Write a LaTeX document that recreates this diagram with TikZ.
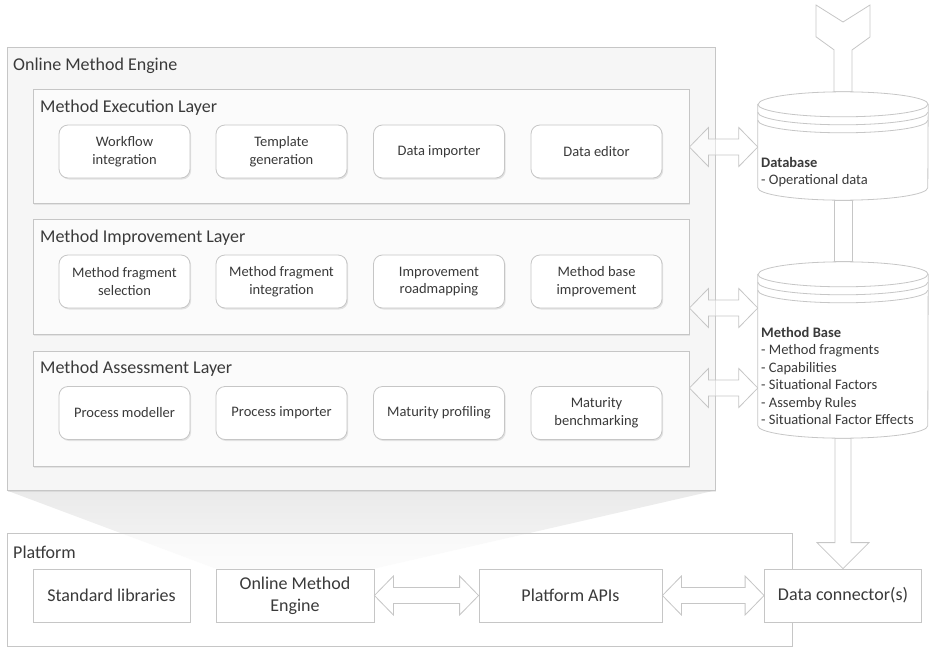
\documentclass[tikz,border=0pt]{standalone}
\usepackage{fontspec}
\setmainfont{Carlito}
\usepackage{tikz}
\usetikzlibrary{calc, shadows, backgrounds}
\definecolor{EdgeGray}{RGB}{198,198,198}
\definecolor{InkGray}{RGB}{58,58,58}
\definecolor{PaleFill}{RGB}{246,246,246}
\definecolor{FunnelGray}{RGB}{234,234,234}

% two-headed block arrow between two points at the same height
\newcommand{\twoway}[2]{%
  \draw[blockarrow] (#1) -- ++(19,19.5) -- ++(0,-11.5) -- ($(#2)+(-19,8)$) -- ++(0,11.5) -- (#2)
    -- ++(-19,-19.5) -- ++(0,11.5) -- ($(#1)+(19,-8)$) -- ++(0,-11.5) -- cycle;}
% drum outline round a named node
\newcommand{\drum}[1]{%
  \draw[drumline, fill=white] ([yshift=-12.5]#1.north west) -- ([yshift=12.5]#1.south west)
    arc[start angle=180, end angle=360, x radius=85, y radius=12.5]
    -- ([yshift=-12.5]#1.north east)
    arc[start angle=0, end angle=180, x radius=85, y radius=12.5] -- cycle;
  \foreach \d in {0,8,16}
    \draw[drumline] ([yshift=-12.5-\d]#1.north west) arc[start angle=180, end angle=360, x radius=85, y radius=12.5];}

\begin{document}
\begin{tikzpicture}[
    x=1pt, y=1pt,
    every node/.style={text=InkGray, inner sep=0pt},
    title/.style={font=\fontsize{18}{21.6}\selectfont},
    enginebox/.style={draw=EdgeGray, line width=0.8pt, fill=PaleFill, drop shadow={opacity=0.15, shadow xshift=1pt, shadow yshift=-1.5pt}},
    layerbox/.style={draw=EdgeGray, line width=0.8pt, fill=white!60!PaleFill, minimum width=656, drop shadow={opacity=0.15, shadow xshift=1pt, shadow yshift=-1.5pt}},
    part/.style={draw=EdgeGray, line width=0.8pt, fill=white, rounded corners=9pt, minimum width=131, minimum height=53, align=center, font=\fontsize{14.5}{17.5}\selectfont, drop shadow={opacity=0.2, shadow xshift=1.2pt, shadow yshift=-1.5pt}},
    platformbox/.style={draw=EdgeGray, line width=0.8pt, fill=white, fill opacity=0.6},
    unit/.style={draw=EdgeGray, line width=0.8pt, fill=white, minimum height=53, align=center, font=\fontsize{18}{21.6}\selectfont},
    blockarrow/.style={draw=EdgeGray, line width=0.8pt, fill=white, fill opacity=0.5, line join=miter},
    drumline/.style={draw=EdgeGray, line width=0.8pt},
    drumspace/.style={minimum width=170},
    drumtext/.style={align=left, font=\fontsize{14.5}{17.5}\selectfont}
]
\useasboundingbox (0,0) rectangle (930,-648);

% platform level
\node[platformbox, minimum width=785, minimum height=113] (platform) at (399.5,-589.5) {};
\node[title, anchor=west] (platformT) at (13,-552) {Platform};
\node[unit, minimum width=157] (stdlib) at (111.5,-595.5) {Standard libraries};
\node[unit, minimum width=158] (engine2) at (295,-595.5) {Online Method\\Engine};
\node[unit, minimum width=183] (apis) at (570.5,-595.5) {Platform APIs};
\node[unit, minimum width=157] (conn) at (843,-595.5) {Data connector(s)};

% engine and its layers
\node[enginebox, minimum width=708, minimum height=443] (engine) at (361,-268.5) {};
\node[title, anchor=west] (engineT) at (13,-66) {Online Method Engine};

\node[layerbox, minimum height=114] (execL) at (361,-146) {};
\node[title, anchor=west] (execT) at (40,-108) {Method Execution Layer};
\node[part] (wf) at (124.5,-151.5) {Workflow\\integration};
\node[part] (tg) at (281.5,-151.5) {Template\\generation};
\node[part] (di) at (439,-151.5) {Data importer};
\node[part] (de) at (596.5,-151.5) {Data editor};

\node[layerbox, minimum height=115] (improveL) at (361,-276.5) {};
\node[title, anchor=west] (improveT) at (40,-238) {Method Improvement Layer};
\node[part] (mfs) at (124.5,-281.5) {Method fragment\\selection};
\node[part] (mfi) at (281.5,-281.5) {Method fragment\\integration};
\node[part] (ir) at (439,-281.5) {Improvement\\roadmapping};
\node[part] (mbi) at (596.5,-281.5) {Method base\\improvement};

\node[layerbox, minimum height=115] (assessL) at (361,-408.5) {};
\node[title, anchor=west] (assessT) at (40,-369) {Method Assessment Layer};
\node[part] (pm) at (124.5,-413) {Process modeller};
\node[part] (pi) at (281.5,-413) {Process importer};
\node[part] (mp) at (439,-413) {Maturity profiling};
\node[part] (mbm) at (596.5,-413) {Maturity\\benchmarking};

% zoom funnel behind everything
\begin{scope}[on background layer]
\shade[top color=FunnelGray, bottom color=white!60!FunnelGray] (engine.south west) -- (engine.south east) -- (engine2.north east) -- (engine2.north west) -- cycle;
\end{scope}

% storage
\node[drumspace, minimum height=108] (db) at (843,-146) {};
\node[drumspace, minimum height=176] (mb) at (843,-350) {};
\coordinate (feed) at (843,-5);

\draw[blockarrow] (feed) ++(-27,0) -- ++(27,-17) -- ++(27,17) -- ++(0,-32) -- ++(-18,-13)
  -- ([xshift=9]db.north) -- ([xshift=-9]db.north) -- ++(0,42) -- ++(-18,13) -- cycle;
\draw[blockarrow] ([xshift=-9]db.south) rectangle ([xshift=9]mb.north);
\draw[blockarrow] ([xshift=-8]mb.south) -- ([xshift=-8,yshift=26]conn.north) -- ++(-18,0)
  -- (conn.north) -- ++(26,26) -- ++(-18,0) -- ([xshift=8]mb.south) -- cycle;

\twoway{execL.east |- 0,-147}{db.west |- 0,-147}
\twoway{improveL.east |- 0,-308}{mb.west |- 0,-308}
\twoway{assessL.east |- 0,-388}{mb.west |- 0,-388}
\twoway{engine2.east}{apis.west}
\twoway{apis.east}{conn.west}

\drum{db}
\drum{mb}
\node[drumtext, anchor=west] (dbT) at (761,-172) {\textbf{Database}\\- Operational data};
\node[drumtext, anchor=west] (mbT) at (761,-376) {\textbf{Method Base}\\- Method fragments\\- Capabilities\\- Situational Factors\\- Assemby Rules\\- Situational Factor Effects};
\end{tikzpicture}
\end{document}
